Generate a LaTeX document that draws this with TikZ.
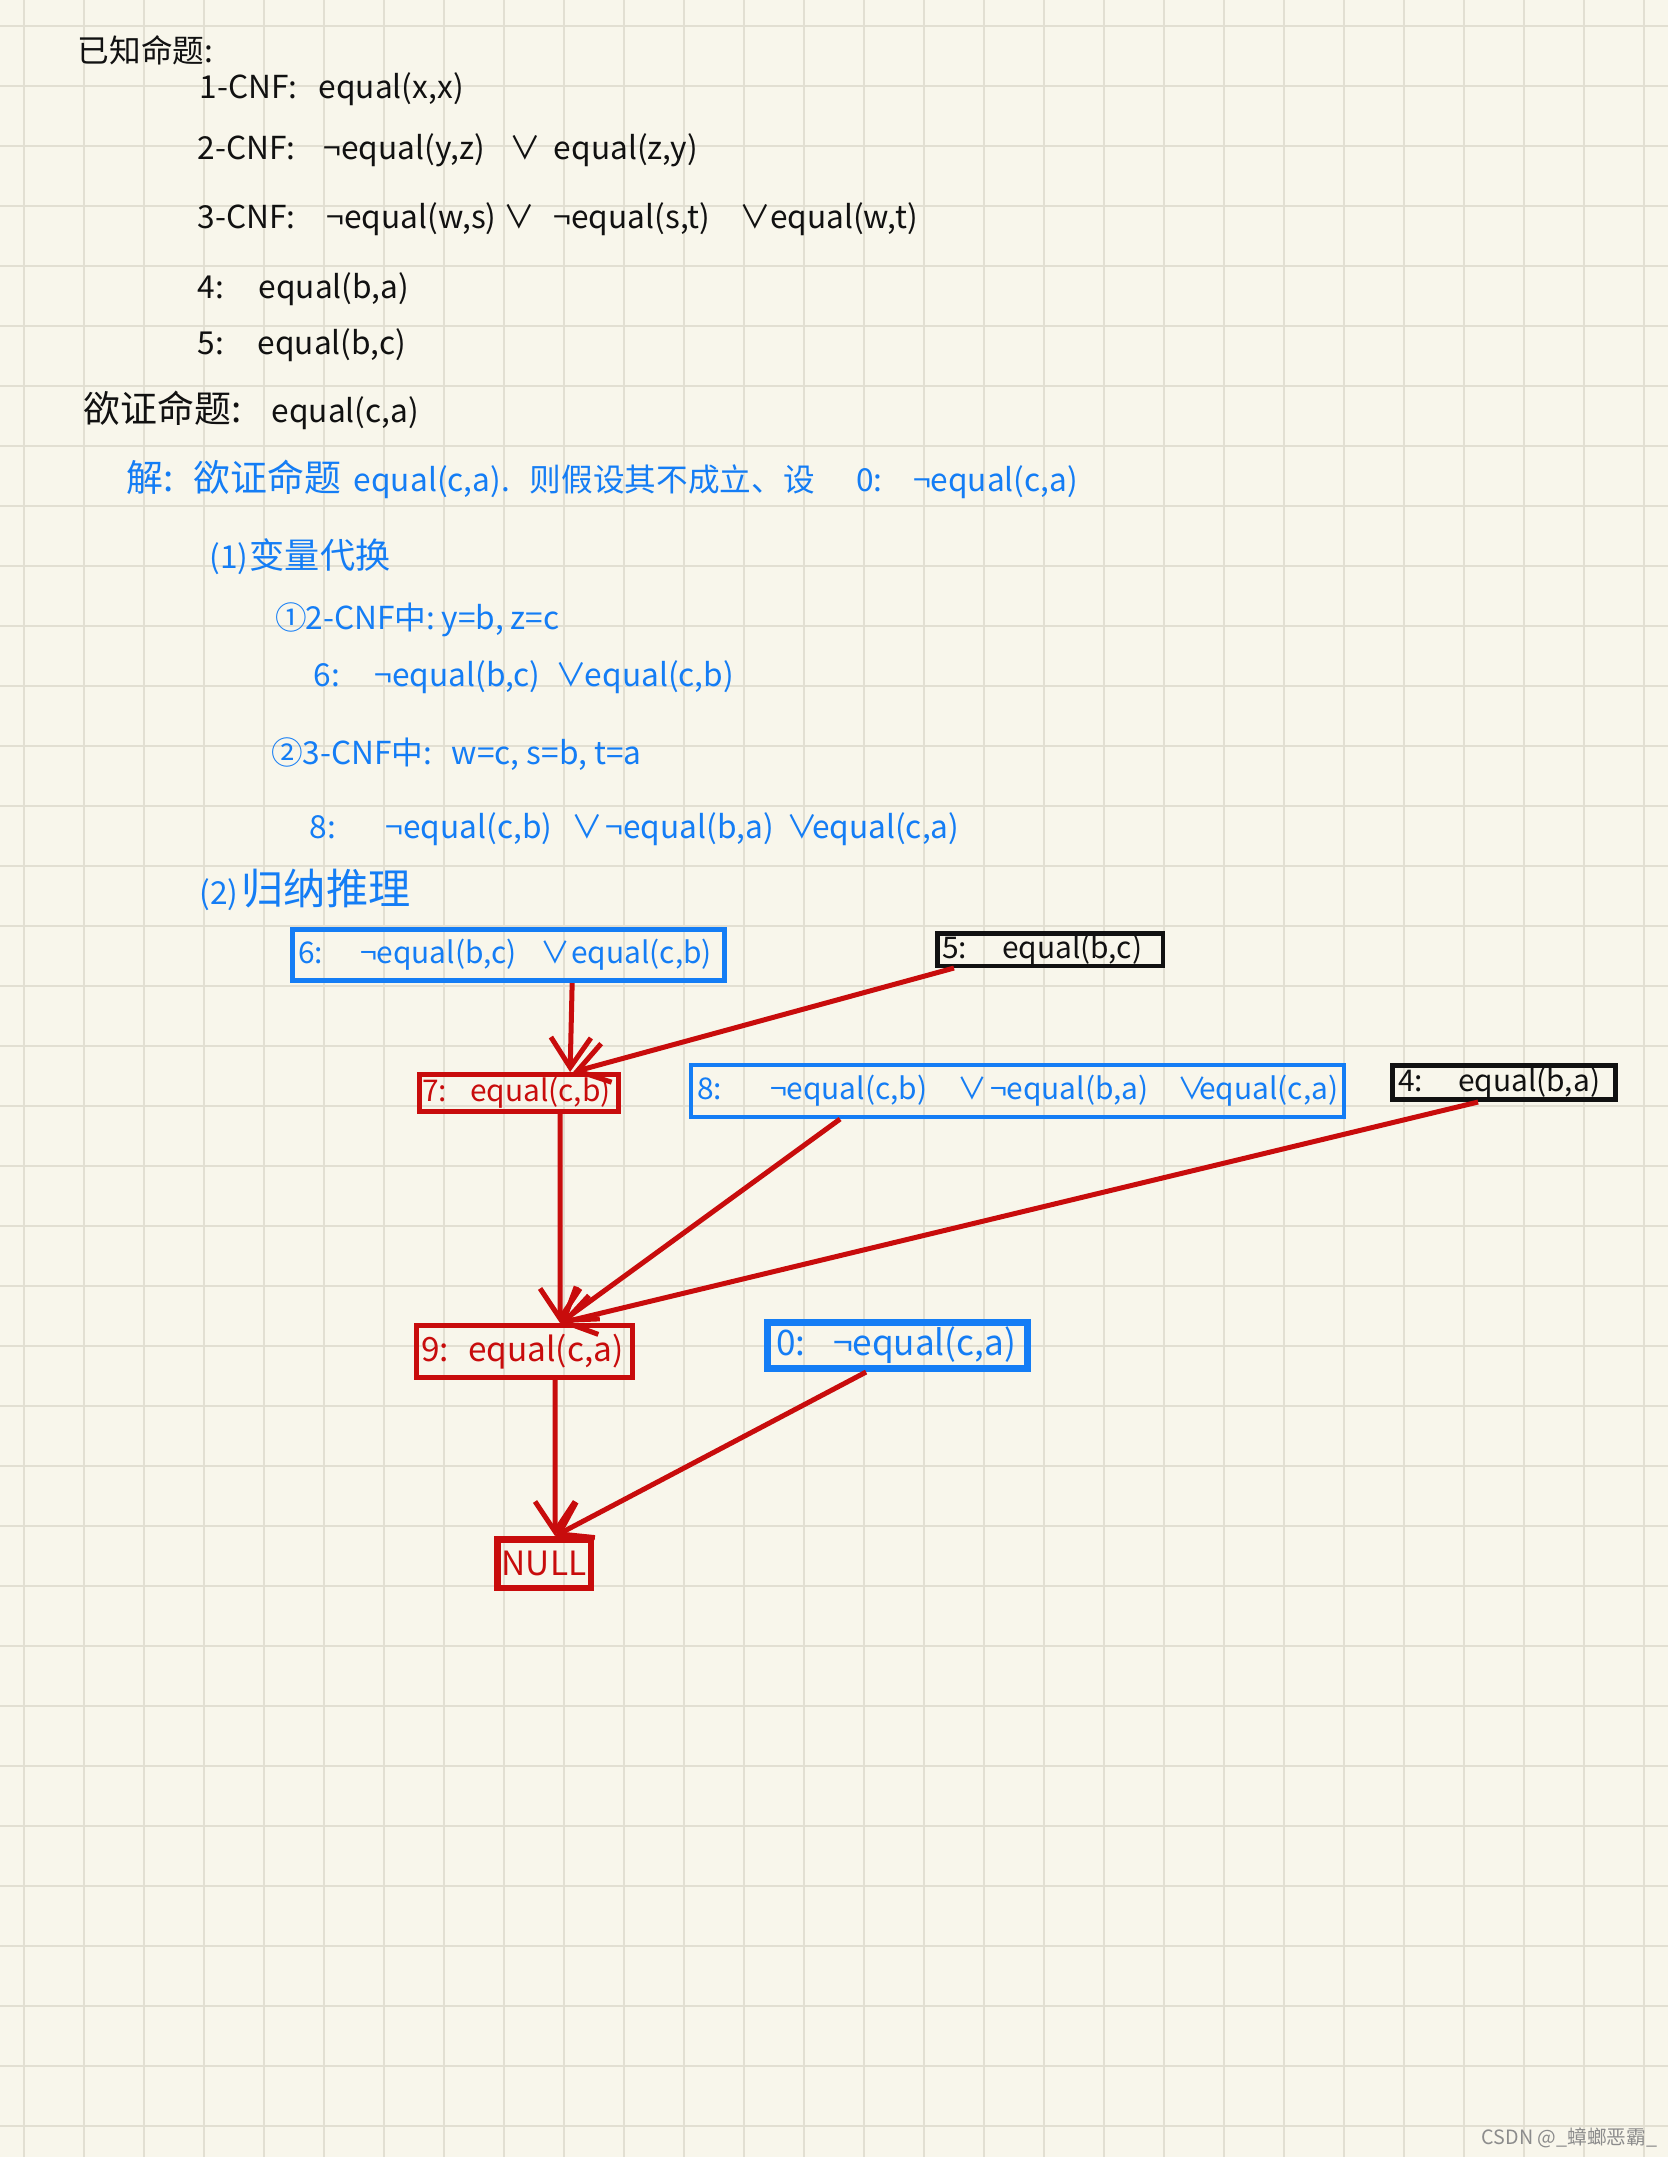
\documentclass[tikz,border=0pt]{standalone}
\usepackage{fontspec}
\setmainfont{Noto Sans CJK SC}
\usetikzlibrary{arrows.meta}
\definecolor{paper}{RGB}{248,246,235}
\definecolor{gridc}{RGB}{226,223,210}
\definecolor{hblue}{RGB}{20,125,245}
\definecolor{hred}{RGB}{200,12,12}
\definecolor{hblack}{RGB}{17,17,17}
\definecolor{wmark}{RGB}{140,140,140}
\newcommand{\sg}[2]{\makebox[#1mm][l]{#2}}
\newcommand{\fs}[1]{\fontsize{#1}{#1}\selectfont}
\begin{document}
\begin{tikzpicture}[x=0.01cm,y=-0.01cm,
  gridline/.style={draw=gridc, line width=0.2mm},
  txt/.style={anchor=west, inner sep=0pt, font=\fs{9}},
  blk/.style={txt, text=hblack},
  blu/.style={txt, text=hblue},
  boxed/.style={draw, anchor=north west, align=left, inner ysep=0pt, font=\fs{8.5}},
  bluebox/.style={boxed, draw=hblue, text=hblue},
  redbox/.style={boxed, draw=hred, text=hred},
  blackbox/.style={boxed, draw=hblack, text=hblack},
  arr/.style={draw=hred, line width=0.5mm, -{Straight Barb[length=3mm,width=4mm]}},
]
\useasboundingbox (0,0) rectangle (1668,2157);
\fill[paper] (0,0) rectangle (1668,2157);
\foreach \i in {0,...,27} \draw[gridline] ({24+60*\i},0) -- ({24+60*\i},2157);
\foreach \j in {0,...,35} \draw[gridline] (0,{26+60*\j}) -- (1668,{26+60*\j});

% known propositions
\node[blk, font=\fs{9}] (k0) at (77,50) {已知命题:};
\node[blk] (k1) at (199,89) {\sg{11.9}{1-CNF:}equal(x,x)};
\node[blk] (k2) at (197,150) {\sg{12.6}{2-CNF:}\sg{18.6}{¬equal(y,z)}\sg{4.4}{∨}equal(z,y)};
\node[blk] (k3) at (197,219) {\sg{12.9}{3-CNF:}\sg{17.7}{¬equal(w,s)}\sg{5.0}{∨}\sg{18.5}{¬equal(s,t)}\sg{3.1}{∨}equal(w,t)};
\node[blk] (k4) at (197,289) {\sg{6.1}{4:}equal(b,a)};
\node[blk] (k5) at (197,345) {\sg{6.0}{5:}equal(b,c)};
\node[blk] (goal) at (83,410) {\sg{18.8}{\fs{10.5}欲证命题:}equal(c,a)};

% solution
\node[blu] (s0) at (126,479) {\sg{6.7}{\fs{10.5}解:}\sg{16.0}{\fs{10.5}欲证命题}\sg{17.6}{equal(c,a).}\sg{32.6}{\fs{9}则假设其不成立、设}\sg{5.7}{0:}¬equal(c,a)};
\node[blu] (s1) at (209,557) {\sg{4.0}{(1)}\fs{10}变量代换};
\node[blu] (s11) at (275,620) {\sg{3.0}{①}\sg{13.6}{2-CNF中:}y=b, z=c};
\node[blu] (s6) at (313,677) {\sg{6.1}{6:}\sg{18.1}{¬equal(b,c)}\sg{2.9}{∨}equal(c,b)};
\node[blu] (s12) at (271,754) {\sg{3.1}{②}\sg{14.9}{3-CNF中:}w=c, s=b, t=a};
\node[blu] (s8) at (309,829) {\sg{7.6}{8:}\sg{18.6}{¬equal(c,b)}\sg{3.4}{∨}\sg{18.1}{¬equal(b,a)}\sg{2.5}{∨}equal(c,a)};
\node[blu] (s2) at (199,890) {\sg{4.2}{(2)}\fs{12}归纳推理};

% resolution graph
\node[bluebox, line width=0.5mm, inner xsep=0.55mm, text width=42.1mm, minimum height=5.1mm] (b6) at (290,927) {\sg{6.2}{6:}\sg{18.0}{¬equal(b,c)}\sg{3.1}{∨}equal(c,b)};
\node[blackbox, line width=0.45mm, inner xsep=0.475mm, text width=21.6mm, minimum height=3.25mm] (b5) at (935,931) {\sg{6.0}{5:}equal(b,c)};
\node[redbox, line width=0.5mm, inner xsep=0.25mm, text width=19.4mm, minimum height=3.7mm] (b7) at (417,1072) {\sg{4.8}{7:}equal(c,b)};
\node[bluebox, line width=0.4mm, inner xsep=0.6mm, text width=64.1mm, minimum height=5.2mm] (b8) at (689,1063) {\sg{7.3}{8:}\sg{18.7}{¬equal(c,b)}\sg{3.3}{∨}\sg{18.7}{¬equal(b,a)}\sg{2.2}{∨}equal(c,a)};
\node[blackbox, line width=0.5mm, inner xsep=0.55mm, text width=21.2mm, minimum height=3.4mm] (b4) at (1390,1063) {\sg{6.0}{4:}equal(b,a)};
\node[redbox, line width=0.5mm, inner xsep=0.45mm, text width=20.7mm, minimum height=5.2mm, font=\fs{9.5}] (b9) at (414,1323) {\sg{4.7}{9:}equal(c,a)};
\node[bluebox, line width=0.7mm, inner xsep=0.85mm, text width=24.3mm, minimum height=4.6mm, font=\fs{10}] (b0) at (764,1319) {\sg{5.7}{0:}¬equal(c,a)};
\node[redbox, line width=0.65mm, inner sep=0pt, minimum width=9.35mm, minimum height=4.85mm, align=center, font=\fs{9.5}] (bnull) at (494,1536) {NULL};

\draw[arr] ([xshift=28.2mm]b6.south west) -- ([xshift=15.3mm]b7.north west);
\draw[arr] ([xshift=1.9mm]b5.south west) -- ([xshift=15.6mm]b7.north west);
\draw[arr] ([xshift=14.3mm]b7.south west) -- ([xshift=14.6mm]b9.north west);
\draw[arr] ([xshift=15.1mm]b8.south west) -- ([xshift=14.6mm]b9.north west);
\draw[arr] ([xshift=8.8mm]b4.south west) -- ([xshift=14.6mm]b9.north west);
\draw[arr] ([xshift=14.1mm]b9.south west) -- ([xshift=6.1mm]bnull.north west);
\draw[arr] ([xshift=10.2mm]b0.south west) -- ([xshift=6.1mm]bnull.north west);

\node[anchor=west, inner sep=0pt, text=wmark, font=\fs{5.6}] (wm) at (1481,2138) {CSDN @\_蟑螂恶霸\_};
\end{tikzpicture}
\end{document}
